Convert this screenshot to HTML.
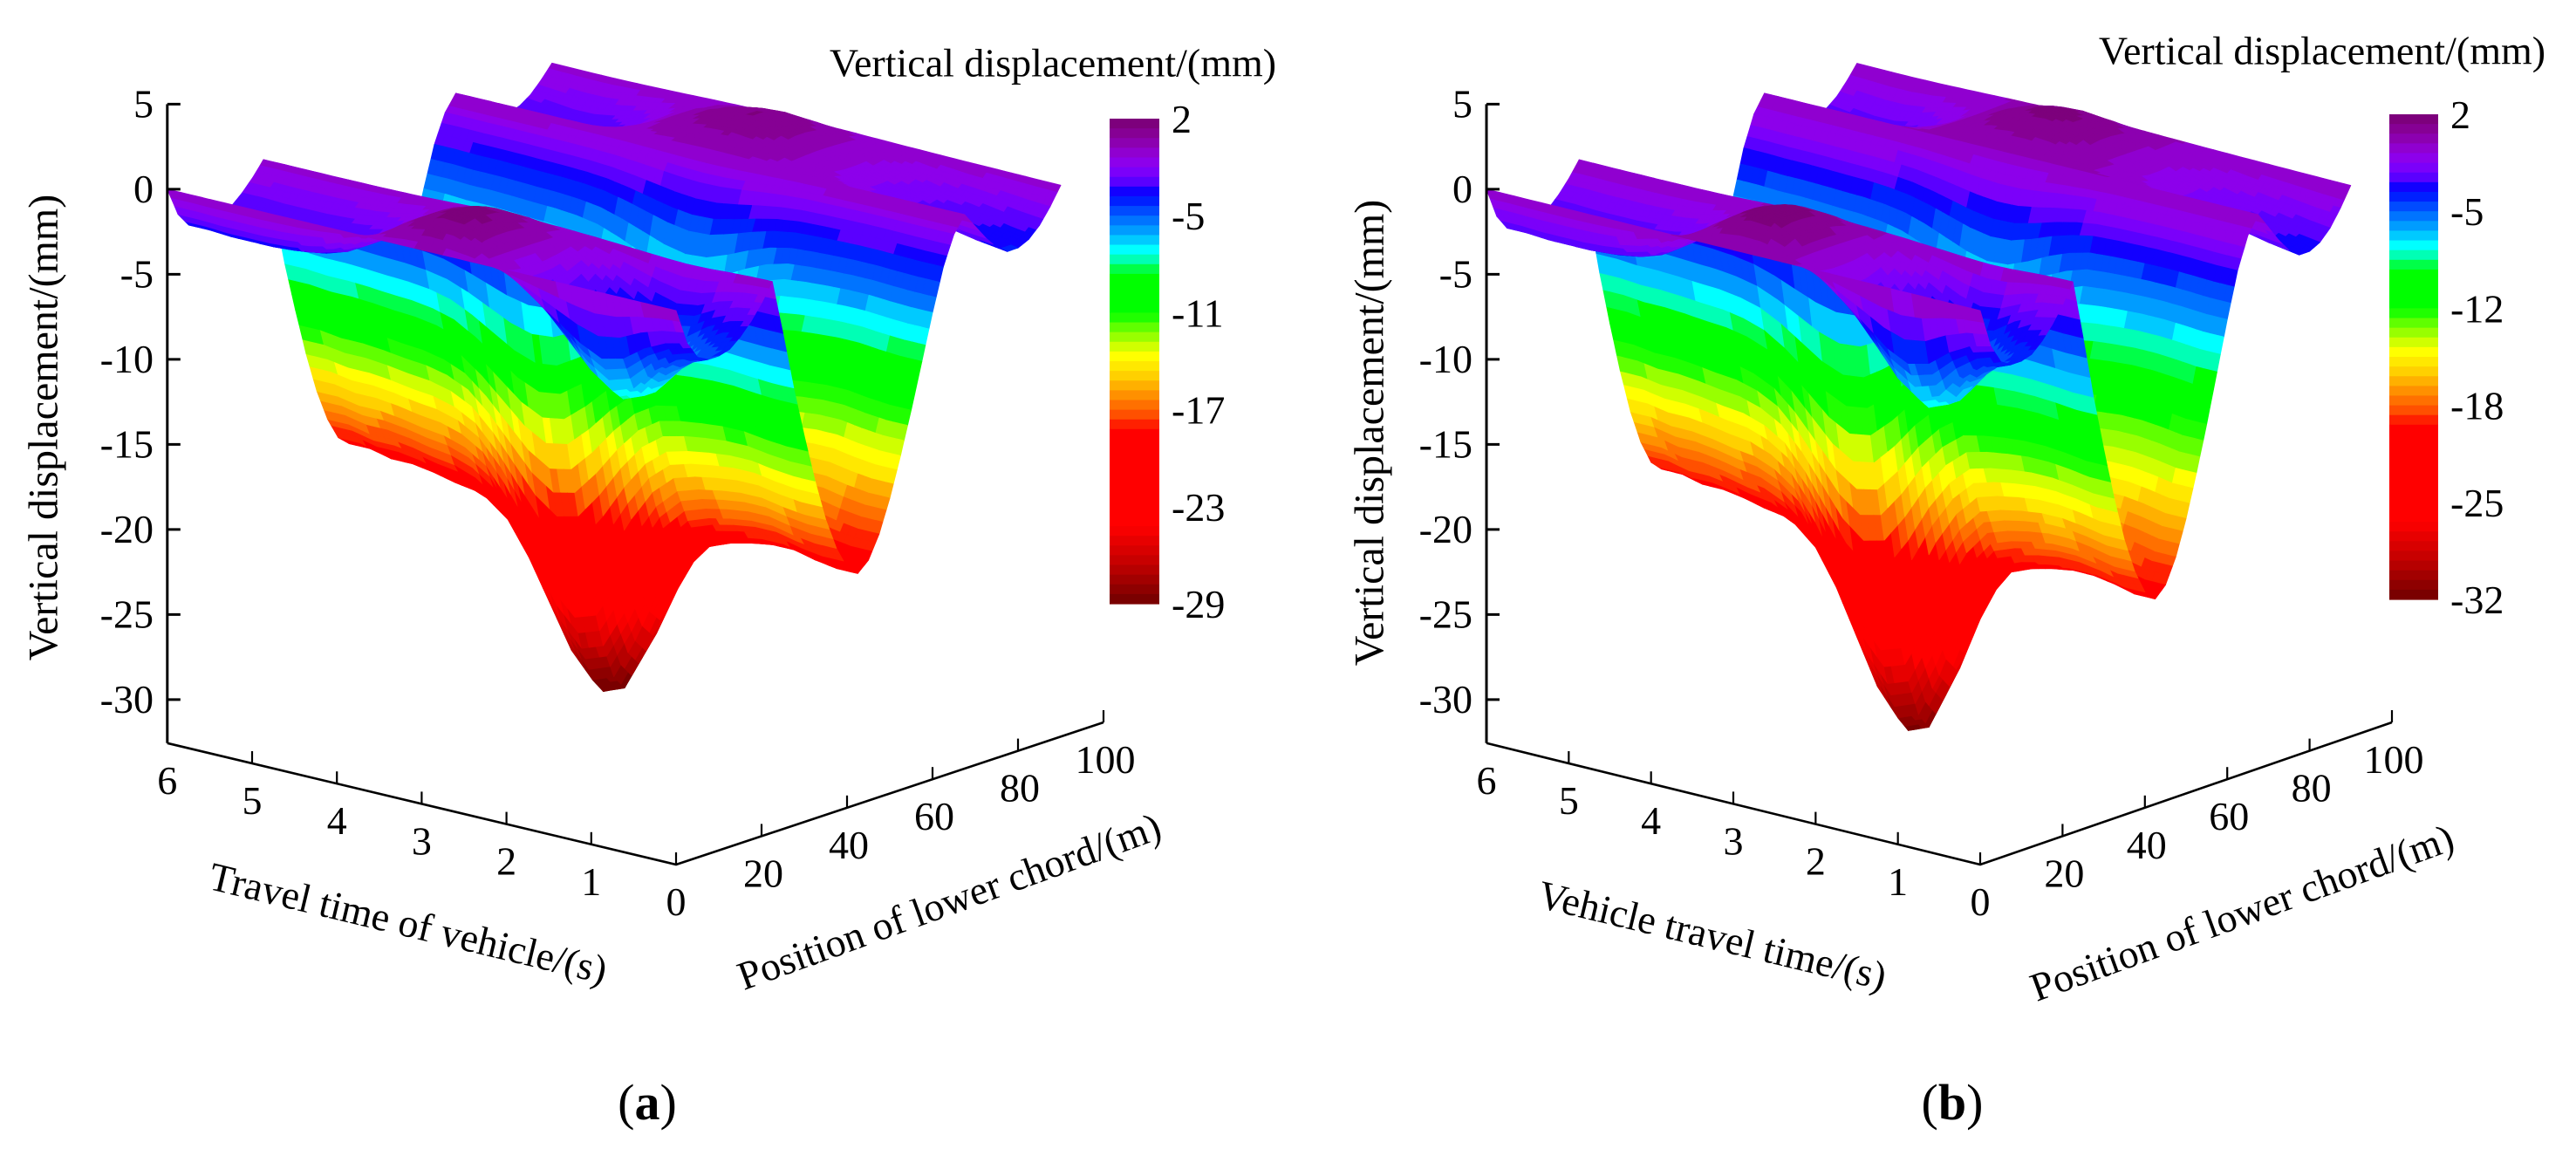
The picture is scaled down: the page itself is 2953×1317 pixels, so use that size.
<!DOCTYPE html>
<html><head><meta charset="utf-8"><title>Vertical displacement surfaces</title>
<style>
html,body{margin:0;padding:0;background:#fff;}
svg{display:block;}
svg text{font-family:"Liberation Serif","DejaVu Serif",serif !important;fill:#000;}
</style></head>
<body>
<svg id="fig" width="2953" height="1317" viewBox="0 0 2953 1317" xmlns="http://www.w3.org/2000/svg" font-family="Liberation Serif, DejaVu Serif, serif">
<rect x="0" y="0" width="2953" height="1317" fill="#fff"/>
<g id="panelA"></g>
<g id="panelB"></g>
</svg>
<script>
// ---------- data ----------
const timeValues = [0,0.25,0.5,0.75,1,1.25,1.5,1.75,2,2.25,2.5,2.75,3,3.25,3.5,3.75,4,4.25,4.5,4.75,5,5.25,5.5,5.75,6];
const positionValues = [0,2.5,5,7.5,10,12.5,15,17.5,20,22.5,25,27.5,30,32.5,35,37.5,40,42.5,45,47.5,50,52.5,55,57.5,60,62.5,65,67.5,70,72.5,75,77.5,80,82.5,85,87.5,90];
// normalized deflection shapes along the lower chord
const frontSpanShape = [0,0.6,0.9,1,1,0.95,0.8,0.6,0.35,0.05,0,0,0,0,0,0,0,0,0,0,0,0,0,0,0,0,0,0,0,0,0,0,0,0,0,0,0];
const mainSpanShape  = [0,0,0,0,0,0,0,0,0,0,0.18,0.36,0.52,0.67,0.8,0.9,0.97,1,0.97,0.9,0.8,0.68,0.55,0.41,0.27,0.14,0.05,0,0,0,0,0,0,0,0,0,0];
const rearSpanShape  = [0,0,0,0,0,0,0,0,0,0,0,0,0,0,0,0,0,0,0,0,0,0,0,0,0,0,0,0,0.3,0.6,0.85,1,1,0.9,0.7,0.4,0.05];
// panel (a) peak values vs time (mm)
const mainPeakA  = [-19,-19,-18.8,-18.5,-18.5,-18.7,-19,-19.5,-21,-23.5,-26.5,-29,-29.5,-28,-25.5,-23,-21,-20,-19.5,-19.3,-19,-18.8,-18.8,-18.5,-18.5];
const frontPeakA = [-3.5,-4,-5,-6.5,-7,-6,-4.5,-3,-1.5,-0.3,0.8,1.5,1.6,1.2,0.5,-0.5,-1.5,-2.2,-2.6,-2.8,-2.9,-2.9,-2.9,-2.8,-2.8];
const rearPeakA  = [-3,-2.8,-2.5,-2.2,-2,-1.6,-1.2,-0.8,-0.3,0.2,0.8,1.2,1.4,1.3,1,0.6,0.1,-0.5,-1.2,-1.8,-2.3,-2.6,-2.6,-2.4,-2.2];
// panel (b) peak values vs time (mm)
const mainPeakB  = [-20.5,-20.5,-20.2,-20,-20,-20.2,-20.5,-21,-22.7,-25.3,-28.6,-31.3,-31.8,-30.2,-27.5,-24.8,-22.7,-21.6,-21,-20.8,-20.5,-20.3,-20.3,-20,-20];
const frontPeakB = [-3.8,-4.3,-5.4,-7,-7.5,-6.5,-4.8,-3.2,-1.6,-0.3,0.9,1.6,1.7,1.3,0.5,-0.5,-1.6,-2.4,-2.8,-3,-3.1,-3.1,-3.1,-3,-3];
const rearPeakB  = [-3.2,-3,-2.7,-2.4,-2.1,-1.7,-1.3,-0.9,-0.3,0.2,0.9,1.3,1.5,1.4,1.1,0.6,0.1,-0.5,-1.3,-1.9,-2.5,-2.8,-2.8,-2.6,-2.4];
// ticks
const zTicks = [5,0,-5,-10,-15,-20,-25,-30];
const timeTicks = [0,1,2,3,4,5,6];
const positionTicks = [20,40,60,80,100];
const colorbarLabelsA = ["2","-5","-11","-17","-23","-29"];
const colorbarLabelsB = ["2","-5","-12","-18","-25","-32"];
const colorRangeA = [-29,2];
const colorRangeB = [-32,2];

// ---------- colormap ----------
const cmapStops = [[0,"#780070"],[0.04,"#8a00a0"],[0.07,"#9000d0"],[0.10,"#8c00f8"],[0.13,"#5a00ff"],[0.155,"#0000ff"],[0.20,"#0060ff"],[0.24,"#00b0ff"],[0.27,"#00ffff"],[0.30,"#00ff90"],[0.32,"#00ff00"],[0.40,"#00ff00"],[0.43,"#60ff00"],[0.47,"#d0ff00"],[0.49,"#ffff00"],[0.53,"#ffd000"],[0.57,"#ff9000"],[0.62,"#ff4000"],[0.64,"#ff0000"],[0.84,"#ff0000"],[0.92,"#c00000"],[1.0,"#700000"]];
function hex2rgb(h){return [parseInt(h.substr(1,2),16),parseInt(h.substr(3,2),16),parseInt(h.substr(5,2),16)];}
function cmap(n){
  n=Math.max(0,Math.min(1,n));
  for(let i=1;i<cmapStops.length;i++){
    if(n<=cmapStops[i][0]){
      const a=cmapStops[i-1],b=cmapStops[i];
      const f=(n-a[0])/((b[0]-a[0])||1);
      const A=hex2rgb(a[1]),B=hex2rgb(b[1]);
      return "rgb("+A.map((v,k)=>Math.round(v+(B[k]-v)*f)).join(",")+")";
    }
  }
  return cmapStops[cmapStops.length-1][1];
}
const LEVELS=50;
function levelColor(z,range){
  const n=(range[1]-z)/(range[1]-range[0]);
  let k=Math.floor(n*LEVELS); k=Math.max(0,Math.min(LEVELS-1,k));
  return cmap((k+0.5)/LEVELS);
}

const NS="http://www.w3.org/2000/svg";
const SERIF="Liberation Serif, DejaVu Serif, serif";
function mk(tag,attrs,parent){
  const e=document.createElementNS(NS,tag);
  for(const k in attrs) e.setAttribute(k,attrs[k]);
  if(tag==="text") e.setAttribute("font-family",SERIF);
  parent.appendChild(e); return e;
}

function drawPanel(g,cfg){
  const P=(t,p,z)=>[cfg.ox+cfg.tx*t+cfg.px*p, cfg.oy+cfg.ty*t+cfg.py*p-cfg.zs*(z-cfg.zBottom)];
  const zAt=(i,j)=>cfg.main[i]*mainSpanShape[j]+cfg.front[i]*frontSpanShape[j]+cfg.rear[i]*rearSpanShape[j];
  const surf=mk("g",{},g);
  
  
  const S=3, cells=[];
  for(let i=0;i<timeValues.length-1;i++){
    for(let j=0;j<positionValues.length-1;j++){
      const t0=timeValues[i],t1=timeValues[i+1],p0=positionValues[j],p1=positionValues[j+1];
      const z00=zAt(i,j),z10=zAt(i+1,j),z01=zAt(i,j+1),z11=zAt(i+1,j+1);
      for(let a=0;a<S;a++)for(let b=0;b<S;b++){
        const u0=a/S,u1=(a+1)/S,v0=b/S,v1=(b+1)/S;
        const Z=(u,v)=>z00*(1-u)*(1-v)+z10*u*(1-v)+z01*(1-u)*v+z11*u*v;
        const T=u=>t0+(t1-t0)*u, Pp=v=>p0+(p1-p0)*v;
        const pts=[P(T(u0),Pp(v0),Z(u0,v0)),P(T(u1),Pp(v0),Z(u1,v0)),P(T(u1),Pp(v1),Z(u1,v1)),P(T(u0),Pp(v1),Z(u0,v1))];
        const zc=Z((u0+u1)/2,(v0+v1)/2);
        const depth=cfg.ty*T((u0+u1)/2)+cfg.py*Pp((v0+v1)/2);
        cells.push({pts,zc,depth});
      }
    }
  }
  cells.sort((A,B)=>A.depth-B.depth);
  for(const c of cells){
    const col=levelColor(c.zc,cfg.range);
    const poly=mk("polygon",{points:c.pts.map(q=>q[0].toFixed(1)+","+q[1].toFixed(1)).join(" "),fill:col,stroke:col,"stroke-width":"0.9","stroke-linejoin":"round"},surf);
    
    
  }
  const ax=mk("g",{stroke:"#000",fill:"none"},g);
  
  
  const c6=P(6,0,cfg.zBottom), c0=P(0,0,cfg.zBottom), p100=P(0,100,cfg.zBottom);
  const zTop=P(6,0,5);
  const zl=mk("line",{x1:c6[0],y1:zTop[1],x2:c6[0],y2:c6[1],"stroke-width":3},ax);
  
  
  const tl=mk("polyline",{points:c6.join(",")+" "+c0.join(",")+" "+p100.join(","),"stroke-width":2.6},ax);
  
  
  const lab=mk("g",{"font-size":"46"},g);
  
  
  zTicks.forEach(v=>{
    const q=P(6,0,v);
    const tk=mk("line",{x1:q[0],y1:q[1],x2:q[0]+15,y2:q[1],"stroke-width":3},ax);
    
    
    const tx=mk("text",{x:cfg.zLabelRight,y:q[1]+15,"text-anchor":"end"},lab);
    tx.textContent=String(v);
    
    
  });
  timeTicks.forEach(v=>{
    const q=P(v,0,cfg.zBottom);
    if(v<6){
      const tk=mk("line",{x1:q[0],y1:q[1],x2:q[0],y2:q[1]-14,"stroke-width":2.2},ax);
      
      
    }
    const tx=mk("text",{x:q[0],y:q[1]+58,"text-anchor":"middle"},lab);
    tx.textContent=String(v);
    
    
  });
  positionTicks.forEach(v=>{
    const q=P(0,v,cfg.zBottom);
    const tk=mk("line",{x1:q[0],y1:q[1],x2:q[0],y2:q[1]-14,"stroke-width":2.2},ax);
    
    
    const tx=mk("text",{x:q[0]+2,y:q[1]+58,"text-anchor":"middle"},lab);
    tx.textContent=String(v);
    
    
  });
  const zt=mk("text",{x:cfg.zTitle[0],y:cfg.zTitle[1],"font-size":"48","text-anchor":"middle","dominant-baseline":"central",transform:"rotate(-90 "+cfg.zTitle[0]+" "+cfg.zTitle[1]+")"},g);
  zt.textContent="Vertical displacement/(mm)";
  
  
  const tt=mk("text",{x:cfg.tTitle[0],y:cfg.tTitle[1],"font-size":"46","text-anchor":"middle","dominant-baseline":"central",transform:"rotate(13.5 "+cfg.tTitle[0]+" "+cfg.tTitle[1]+")"},g);
  tt.textContent=cfg.tTitleText;
  
  
  const pt=mk("text",{x:cfg.pTitle[0],y:cfg.pTitle[1],"font-size":"46","text-anchor":"middle","dominant-baseline":"central",transform:"rotate(-20 "+cfg.pTitle[0]+" "+cfg.pTitle[1]+")"},g);
  pt.textContent="Position of lower chord/(m)";
  
  
  const cb=mk("g",{},g);
  
  
  const h=(cfg.cbY1-cfg.cbY0)/LEVELS;
  for(let k=0;k<LEVELS;k++){
    const r=mk("rect",{x:cfg.cbX,y:(cfg.cbY0+k*h).toFixed(2),width:cfg.cbW,height:(h+0.6).toFixed(2),fill:cmap((k+0.5)/LEVELS)},cb);
    
    
  }
  cfg.cbLabels.forEach((s,k)=>{
    const y=cfg.cbY0+(cfg.cbY1-cfg.cbY0)*k/(cfg.cbLabels.length-1);
    const tx=mk("text",{x:cfg.cbX+cfg.cbW+14,y:y+16,"font-size":"46"},cb);
    tx.textContent=s;
    
    
  });
  const ct=mk("text",{x:cfg.cbTitle[0],y:cfg.cbTitle[1],"font-size":"46","text-anchor":"middle","dominant-baseline":"central"},g);
  ct.textContent="Vertical displacement/(mm)";
  
  
  const pl=mk("text",{x:cfg.tag[0],y:cfg.tag[1],"font-size":"58","text-anchor":"middle","dominant-baseline":"central"},g);
  
  
  const s1=mk("tspan",{},pl); s1.textContent="(";
  const s2=mk("tspan",{"font-weight":"bold"},pl); s2.textContent=cfg.tagLetter;
  const s3=mk("tspan",{},pl); s3.textContent=")";
}

drawPanel(document.getElementById("panelA"),{
  ox:775,oy:991,tx:-97.2,ty:-23.2,px:4.9,py:-1.63,zs:19.5,zBottom:-32.56,
  main:mainPeakA,front:frontPeakA,rear:rearPeakA,range:colorRangeA,
  zLabelRight:176,zTitle:[50,490],tTitle:[468,1058],tTitleText:"Travel time of vehicle/(s)",pTitle:[1088,1033],
  cbX:1272,cbW:57,cbY0:136,cbY1:692,cbLabels:colorbarLabelsA,cbTitle:[1207,72],tag:[742,1263],tagLetter:"a"
});
drawPanel(document.getElementById("panelB"),{
  ox:2270,oy:991,tx:-94.33,ty:-23.2,px:4.72,py:-1.63,zs:19.5,zBottom:-32.56,
  main:mainPeakB,front:frontPeakB,rear:rearPeakB,range:colorRangeB,
  zLabelRight:1688,zTitle:[1570,496],tTitle:[1963,1072],tTitleText:"Vehicle travel time/(s)",pTitle:[2570,1046],
  cbX:2739,cbW:56,cbY0:131,cbY1:687,cbLabels:colorbarLabelsB,cbTitle:[2662,58],tag:[2238,1263],tagLetter:"b"
});
</script>
</body></html>
